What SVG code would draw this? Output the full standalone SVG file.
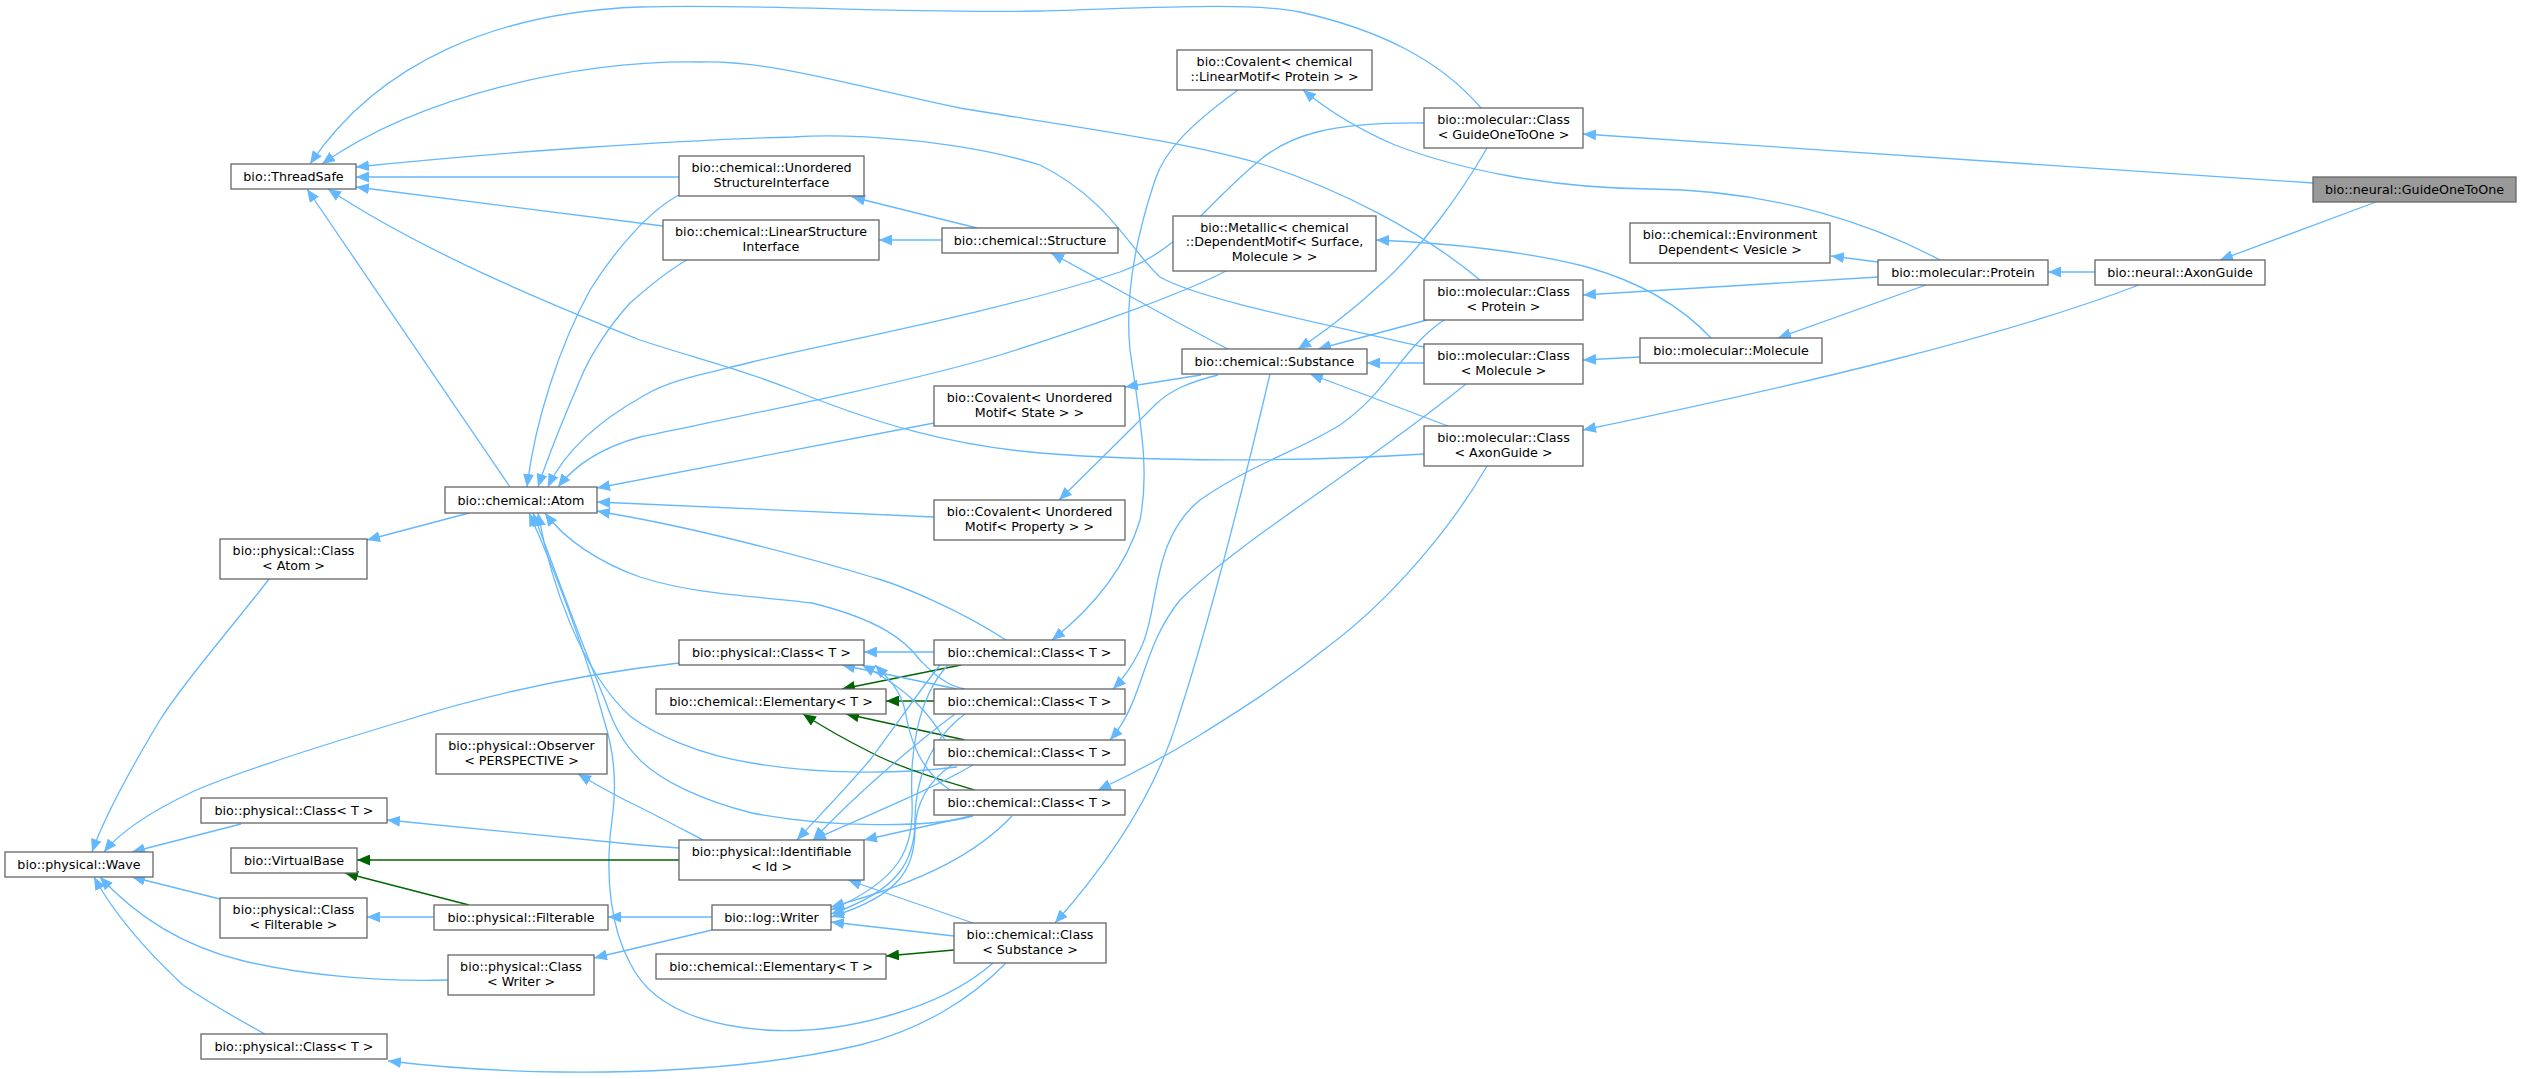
<svg xmlns="http://www.w3.org/2000/svg" width="2521" height="1079" viewBox="0 0 2521 1079">
<style>
.node rect{fill:#ffffff;stroke:#666666;stroke-width:1.3}
.node text{font-family:"DejaVu Sans","Noto Sans",sans-serif;font-size:12.7px;text-anchor:middle;fill:#000000}
#n_GuideOneToOne rect{fill:#999999}
.e{fill:none;stroke:#63b8ff;stroke-width:1.3;marker-end:url(#ab)}
.e.g{stroke:#006400;marker-end:url(#ag)}
</style>
<defs>
<marker id="ab" viewBox="0 0 13 11" refX="13" refY="5.5" markerWidth="13" markerHeight="11" markerUnits="userSpaceOnUse" orient="auto"><path d="M0,0 L13,5.5 L0,11 z" fill="#63b8ff"/></marker>
<marker id="ag" viewBox="0 0 13 11" refX="13" refY="5.5" markerWidth="13" markerHeight="11" markerUnits="userSpaceOnUse" orient="auto"><path d="M0,0 L13,5.5 L0,11 z" fill="#006400"/></marker>
</defs>
<rect width="2521" height="1079" fill="#ffffff"/>
<g id="edges">
<path class="e" d="M2313,183 L1583,134"/>
<path class="e" d="M2376,202 L2220,260"/>
<path class="e" d="M2095,272 L2048,272"/>
<path class="e" d="M2139,285 C2000,338 1800,385 1583,430"/>
<path class="e" d="M1878,262 L1831,256"/>
<path class="e" d="M1878,277 L1583,295"/>
<path class="e" d="M1926,285 L1778,338"/>
<path class="e" d="M1940,260 C1880,228 1780,190 1650,189 C1550,188 1460,170 1395,145 C1360,130 1330,112 1303,90"/>
<path class="e" d="M1481,108 C1440,60 1380,30 1300,12 C1250,2 1150,8 1040,11 C900,14 750,3 640,7 C500,12 380,60 310,164"/>
<path class="e" d="M1480,280 C1420,230 1340,190 1265,165 C1180,140 1060,125 960,108 C850,85 770,60 700,62 C580,60 420,95 322,164"/>
<path class="e" d="M1424,347 C1330,325 1200,300 1160,277 C1130,250 1110,200 1040,165 C960,140 850,133 793,137 C680,140 500,152 356,167"/>
<path class="e" d="M679,177 L356,177"/>
<path class="e" d="M663,226 L356,187"/>
<path class="e" d="M510,487 L307,189"/>
<path class="e" d="M1424,454 C1300,462 1150,462 1040,453 C950,445 880,425 793,390 C730,365 700,360 640,340 C540,300 420,250 328,189"/>
<path class="e" d="M679,195 C650,210 615,250 590,290 C560,345 535,420 527,487"/>
<path class="e" d="M687,260 C665,272 645,290 630,303 C610,325 590,355 580,380 C565,415 550,450 538,487"/>
<path class="e" d="M1424,123 C1330,122 1290,135 1260,160 C1200,210 1180,250 1120,272 C1000,312 820,345 752,362 C700,375 670,380 645,395 C600,420 565,450 548,487"/>
<path class="e" d="M1226,271 C1180,295 1080,330 1000,355 C900,385 720,420 640,437 C600,448 575,465 558,487"/>
<path class="e" d="M934,423 L597,488"/>
<path class="e" d="M934,517 L597,502"/>
<path class="e" d="M1006,640 C960,610 900,585 875,578 C800,555 700,530 630,517 L597,511"/>
<path class="e" d="M965,689 C945,686 930,670 920,660 C905,640 880,620 812,603 C760,596 700,596 640,577 C600,563 565,540 545,513"/>
<path class="e" d="M957,767 C900,774 820,775 752,763 C700,755 655,735 630,716 C580,670 550,580 538,513"/>
<path class="e" d="M973,816 C930,828 830,828 752,813 C700,800 660,780 640,760 C620,740 612,720 605,700 C580,640 555,570 533,513"/>
<path class="e" d="M993,963 C940,1010 840,1035 765,1030 C700,1025 650,1005 630,963 C612,930 604,880 612,820 C618,780 612,745 604,720 C585,650 555,570 529,513"/>
<path class="e" d="M469,513 L367,540"/>
<path class="e" d="M269,579 C230,630 185,680 160,720 C130,770 105,815 92,852"/>
<path class="e" d="M679,663 C600,672 500,690 400,722 C300,752 230,775 192,792 C150,812 120,832 104,852"/>
<path class="e" d="M241,824 L132,852"/>
<path class="e" d="M220,899 L132,877"/>
<path class="e" d="M448,980 C380,982 300,975 240,960 C180,945 135,915 100,877"/>
<path class="e" d="M265,1034 C230,1015 205,1000 183,985 C140,945 112,910 94,877"/>
<path class="e g" d="M679,860 L357,860"/>
<path class="e g" d="M469,905 L345,873"/>
<path class="e" d="M434,917 L367,917"/>
<path class="e" d="M712,917 L608,917"/>
<path class="e" d="M712,930 L594,958"/>
<path class="e" d="M679,848 L640,845 L387,820"/>
<path class="e" d="M703,840 C680,828 650,812 625,800 C605,790 592,782 578,774"/>
<path class="e" d="M942,240 L879,240"/>
<path class="e" d="M977,228 L852,197"/>
<path class="e" d="M1228,349 C1180,325 1120,290 1051,253"/>
<path class="e" d="M1201,375 L1125,387"/>
<path class="e" d="M1218,375 C1190,382 1170,390 1155,405 C1120,440 1090,470 1059,500"/>
<path class="e" d="M1270,374 C1245,480 1210,620 1179,715 C1160,780 1120,850 1055,923"/>
<path class="e" d="M1487,148 C1460,195 1420,250 1380,285 C1350,312 1320,335 1298,349"/>
<path class="e" d="M1427,320 L1318,349"/>
<path class="e" d="M1424,363 L1367,363"/>
<path class="e" d="M1448,426 L1310,374"/>
<path class="e" d="M1640,357 L1583,360"/>
<path class="e" d="M1711,338 C1680,305 1640,282 1587,267 C1530,252 1450,243 1376,240"/>
<path class="e" d="M1444,320 C1400,350 1390,390 1340,425 C1300,450 1250,465 1200,500 C1150,540 1160,610 1140,650 C1130,670 1122,680 1113,689"/>
<path class="e" d="M1466,384 C1360,470 1240,540 1180,600 C1140,650 1145,700 1110,740"/>
<path class="e" d="M1487,466 C1450,530 1390,600 1330,645 C1280,685 1240,710 1200,735 C1160,760 1130,775 1098,790"/>
<path class="e" d="M1238,90 C1190,125 1165,150 1155,180 C1135,240 1125,300 1130,350 C1140,420 1150,470 1140,520 C1125,570 1090,610 1052,640"/>
<path class="e" d="M934,652 L864,652"/>
<path class="e g" d="M961,665 L842,689"/>
<path class="e g" d="M934,701 L886,701"/>
<path class="e g" d="M965,740 L846,714"/>
<path class="e g" d="M975,790 C940,780 900,768 870,752 C840,737 820,725 803,714"/>
<path class="e g" d="M954,950 L886,956"/>
<path class="e" d="M957,689 L842,665"/>
<path class="e" d="M945,740 C930,715 910,690 862,665"/>
<path class="e" d="M950,790 C920,770 910,740 905,710 C900,690 890,680 875,665"/>
<path class="e" d="M940,665 C920,690 900,720 870,760 C840,795 815,820 797,840"/>
<path class="e" d="M948,665 C915,700 910,760 912,800 C914,850 900,880 831,910"/>
<path class="e" d="M955,714 C920,740 860,790 813,840"/>
<path class="e" d="M965,714 C930,740 915,780 915,820 C915,860 900,890 831,914"/>
<path class="e" d="M973,765 C930,790 880,810 813,840"/>
<path class="e" d="M952,765 C930,780 916,800 915,830 C914,870 900,895 831,917"/>
<path class="e" d="M971,816 L864,840"/>
<path class="e" d="M1012,816 C980,850 930,880 831,907"/>
<path class="e" d="M973,923 L848,880"/>
<path class="e" d="M954,936 L831,922"/>
<path class="e" d="M1006,963 C970,1000 920,1030 860,1045 C760,1068 650,1073 560,1072 C480,1071 430,1066 388,1061"/>
</g>
<g id="n_GuideOneToOne" class="node"><rect x="2313" y="177" width="203" height="25"/><text x="2414.5" y="194">bio::neural::GuideOneToOne</text></g>
<g id="n_AxonGuide" class="node"><rect x="2095" y="260" width="170" height="25"/><text x="2180" y="277">bio::neural::AxonGuide</text></g>
<g id="n_Protein" class="node"><rect x="1878" y="260" width="170" height="25"/><text x="1963" y="277">bio::molecular::Protein</text></g>
<g id="n_EnvDep" class="node"><rect x="1630" y="223" width="200" height="40"/><text x="1730" y="239">bio::chemical::Environment</text><text x="1730" y="253.5">Dependent&lt; Vesicle &gt;</text></g>
<g id="n_Molecule" class="node"><rect x="1640" y="338" width="182" height="25"/><text x="1731" y="355">bio::molecular::Molecule</text></g>
<g id="n_ClassGuide" class="node"><rect x="1424" y="108" width="159" height="40"/><text x="1503.5" y="124">bio::molecular::Class</text><text x="1503.5" y="138.5">&lt; GuideOneToOne &gt;</text></g>
<g id="n_ClassProtein" class="node"><rect x="1424" y="280" width="159" height="40"/><text x="1503.5" y="296">bio::molecular::Class</text><text x="1503.5" y="310.5">&lt; Protein &gt;</text></g>
<g id="n_ClassMolecule" class="node"><rect x="1424" y="344" width="159" height="40"/><text x="1503.5" y="360">bio::molecular::Class</text><text x="1503.5" y="374.5">&lt; Molecule &gt;</text></g>
<g id="n_ClassAxon" class="node"><rect x="1424" y="426" width="159" height="40"/><text x="1503.5" y="442">bio::molecular::Class</text><text x="1503.5" y="456.5">&lt; AxonGuide &gt;</text></g>
<g id="n_CovLinear" class="node"><rect x="1177" y="50" width="195" height="40"/><text x="1274.5" y="66">bio::Covalent&lt; chemical</text><text x="1274.5" y="80.5">::LinearMotif&lt; Protein &gt; &gt;</text></g>
<g id="n_Metallic" class="node"><rect x="1173" y="216" width="203" height="55"/><text x="1274.5" y="231.8">bio::Metallic&lt; chemical</text><text x="1274.5" y="246.2">::DependentMotif&lt; Surface,</text><text x="1274.5" y="260.8">Molecule &gt; &gt;</text></g>
<g id="n_Substance" class="node"><rect x="1182" y="349" width="185" height="25"/><text x="1274.5" y="366">bio::chemical::Substance</text></g>
<g id="n_Structure" class="node"><rect x="942" y="228" width="176" height="25"/><text x="1030" y="245">bio::chemical::Structure</text></g>
<g id="n_Unordered" class="node"><rect x="679" y="156" width="185" height="40"/><text x="771.5" y="172">bio::chemical::Unordered</text><text x="771.5" y="186.5">StructureInterface</text></g>
<g id="n_LinearSI" class="node"><rect x="663" y="220" width="216" height="40"/><text x="771" y="236">bio::chemical::LinearStructure</text><text x="771" y="250.5">Interface</text></g>
<g id="n_ThreadSafe" class="node"><rect x="231" y="164" width="125" height="25"/><text x="293.5" y="181">bio::ThreadSafe</text></g>
<g id="n_Atom" class="node"><rect x="445" y="487" width="152" height="26"/><text x="521" y="504.5">bio::chemical::Atom</text></g>
<g id="n_ClassAtom" class="node"><rect x="220" y="539" width="147" height="40"/><text x="293.5" y="555">bio::physical::Class</text><text x="293.5" y="569.5">&lt; Atom &gt;</text></g>
<g id="n_CovState" class="node"><rect x="934" y="386" width="191" height="40"/><text x="1029.5" y="402">bio::Covalent&lt; Unordered</text><text x="1029.5" y="416.5">Motif&lt; State &gt; &gt;</text></g>
<g id="n_CovProperty" class="node"><rect x="934" y="500" width="191" height="40"/><text x="1029.5" y="516">bio::Covalent&lt; Unordered</text><text x="1029.5" y="530.5">Motif&lt; Property &gt; &gt;</text></g>
<g id="n_PhysClassT1" class="node"><rect x="679" y="640" width="185" height="25"/><text x="771.5" y="657">bio::physical::Class&lt; T &gt;</text></g>
<g id="n_ChemClass1" class="node"><rect x="934" y="640" width="191" height="25"/><text x="1029.5" y="657">bio::chemical::Class&lt; T &gt;</text></g>
<g id="n_Elementary1" class="node"><rect x="656" y="689" width="230" height="25"/><text x="771" y="706">bio::chemical::Elementary&lt; T &gt;</text></g>
<g id="n_ChemClass2" class="node"><rect x="934" y="689" width="191" height="25"/><text x="1029.5" y="706">bio::chemical::Class&lt; T &gt;</text></g>
<g id="n_ChemClass3" class="node"><rect x="934" y="740" width="191" height="25"/><text x="1029.5" y="757">bio::chemical::Class&lt; T &gt;</text></g>
<g id="n_ChemClass4" class="node"><rect x="934" y="790" width="191" height="25"/><text x="1029.5" y="807">bio::chemical::Class&lt; T &gt;</text></g>
<g id="n_Identifiable" class="node"><rect x="679" y="840" width="185" height="40"/><text x="771.5" y="856">bio::physical::Identifiable</text><text x="771.5" y="870.5">&lt; Id &gt;</text></g>
<g id="n_Writer" class="node"><rect x="712" y="905" width="119" height="25"/><text x="771.5" y="922">bio::log::Writer</text></g>
<g id="n_ClassSubstance" class="node"><rect x="954" y="923" width="152" height="40"/><text x="1030" y="939">bio::chemical::Class</text><text x="1030" y="953.5">&lt; Substance &gt;</text></g>
<g id="n_Elementary2" class="node"><rect x="656" y="954" width="230" height="25"/><text x="771" y="971">bio::chemical::Elementary&lt; T &gt;</text></g>
<g id="n_Observer" class="node"><rect x="436" y="734" width="171" height="40"/><text x="521.5" y="750">bio::physical::Observer</text><text x="521.5" y="764.5">&lt; PERSPECTIVE &gt;</text></g>
<g id="n_PhysClassT2" class="node"><rect x="201" y="798" width="186" height="25"/><text x="294" y="815">bio::physical::Class&lt; T &gt;</text></g>
<g id="n_VirtualBase" class="node"><rect x="231" y="848" width="126" height="25"/><text x="294" y="865">bio::VirtualBase</text></g>
<g id="n_Wave" class="node"><rect x="5" y="852" width="148" height="25"/><text x="79" y="869">bio::physical::Wave</text></g>
<g id="n_ClassFilterable" class="node"><rect x="220" y="898" width="147" height="40"/><text x="293.5" y="914">bio::physical::Class</text><text x="293.5" y="928.5">&lt; Filterable &gt;</text></g>
<g id="n_Filterable" class="node"><rect x="434" y="905" width="174" height="25"/><text x="521" y="922">bio::physical::Filterable</text></g>
<g id="n_ClassWriter" class="node"><rect x="448" y="955" width="146" height="40"/><text x="521" y="971">bio::physical::Class</text><text x="521" y="985.5">&lt; Writer &gt;</text></g>
<g id="n_PhysClassT3" class="node"><rect x="201" y="1034" width="186" height="25"/><text x="294" y="1051">bio::physical::Class&lt; T &gt;</text></g>
</svg>
